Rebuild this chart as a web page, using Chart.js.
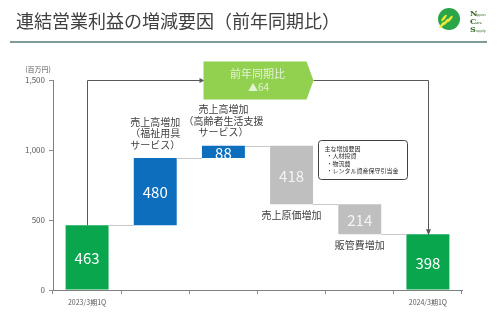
<!DOCTYPE html>
<html><head><meta charset="utf-8">
<script src="https://cdn.jsdelivr.net/npm/chart.js@4"></script>
<style>html,body{margin:0;padding:0;background:#fff;}canvas{display:block;}</style>
</head><body>
<canvas id="c" width="500" height="324"></canvas>
<script>
const titleText = '連結営業利益の増減要因（前年同期比）';
const unitLabel = '(百万円)';
const categories = ['2023/3期1Q','売上高増加（福祉用具サービス）','売上高増加（高齢者生活支援サービス）','売上原価増加','販管費増加','2024/3期1Q'];
const xTickLabels = ['2023/3期1Q','','','','','2024/3期1Q'];
const changes = [463, 480, 88, -418, -214, 398];
const barKinds = ['total','up','up','down','down','total'];
const yTicks = [0, 500, 1000, 1500];
const stepLabels = [[], ['売上高増加','（福祉用具','サービス）'], ['売上高増加','（高齢者生活支援','サービス）'], ['売上原価増加'], ['販管費増加'], []];
const diffLabel = ['前年同期比', '▲64'];
const noteLines = ['主な増加要因', '・人材投資', '・物流費', '・レンタル資産保守引当金'];

const FONT = '"Noto Sans CJK JP","Noto Sans",sans-serif';
const colorOf = {total:'#0aa64e', up:'#0d6ebe', down:'#bfbfbf'};

// floating ranges
let run = 0;
const ranges = changes.map((v,i)=>{
  if (barKinds[i]==='total') { run = v; return [0, v]; }
  const s = run; run = s + v; return [Math.min(s,run), Math.max(s,run)];
});
const levels = []; // ending level after each bar
{ let r=0; changes.forEach((v,i)=>{ r = barKinds[i]==='total'? v : r+v; levels.push(r); }); }

const deco = {
  id:'deco',
  afterDatasetsDraw(chart){
    const ctx = chart.ctx, xs = chart.scales.x, ys = chart.scales.y;
    const meta = chart.getDatasetMeta(0).data;
    ctx.save();
    // title
    ctx.fillStyle = '#404040';
    ctx.font = '18px ' + FONT;
    ctx.textBaseline = 'alphabetic'; ctx.textAlign='left';
    ctx.fillText(titleText, 16, 28);
    ctx.fillStyle = '#7d9c98';
    ctx.fillRect(10, 41, 477, 2);
    // logo
    ctx.fillStyle = '#2aa648';
    ctx.beginPath(); ctx.arc(449, 19, 11, 0, Math.PI*2); ctx.fill();
    ctx.fillStyle = '#eee83a';
    [[442,25,-0.9],[446,22,-0.9],[450,19,-0.9],[444,18,-0.9]].forEach(([x,y,a])=>{
      ctx.beginPath(); ctx.ellipse(x,y,4,1.3,a,0,Math.PI*2); ctx.fill();
    });
    ctx.fillStyle = '#3e6b2c';
    ctx.textBaseline='middle';
    [['N','ippon',14],['C','are',22],['S','upply',30]].forEach(([a,b,y])=>{
      ctx.font = 'bold 8px "DejaVu Serif",serif'; ctx.fillText(a, 470, y);
      ctx.font = '3.5px "DejaVu Sans",sans-serif'; ctx.fillText(b, 476, y+1);
    });
    // unit label
    ctx.fillStyle = '#595959';
    ctx.font = '7px ' + FONT;
    ctx.textAlign='center'; ctx.textBaseline='middle';
    ctx.fillText(unitLabel, 38, 69);

    // connectors
    ctx.strokeStyle = '#c8c8c8'; ctx.lineWidth = 1;
    for (let i=0;i<meta.length-1;i++){
      const a = meta[i], b = meta[i+1];
      const yy = Math.round(ys.getPixelForValue(levels[i])) + 0.5;
      ctx.beginPath(); ctx.moveTo(a.x + a.width/2, yy); ctx.lineTo(b.x - b.width/2, yy); ctx.stroke();
    }
    // value labels
    ctx.font = '15px ' + FONT;
    meta.forEach((el,i)=>{
      ctx.fillStyle = barKinds[i]==='down' ? '#f4f4f4' : '#ffffff';
      const cy = (el.y + el.base)/2 + 1;
      ctx.fillText(String(Math.abs(changes[i])), el.x, cy);
    });
    // step labels
    ctx.font = '10px ' + FONT; ctx.fillStyle = '#404040';
    meta.forEach((el,i)=>{
      const lines = stepLabels[i]; if (!lines.length) return;
      if (barKinds[i]==='up'){
        const top = Math.min(el.y, el.base);
        lines.forEach((t,k)=> ctx.fillText(t, el.x, top - 13 - (lines.length-1-k)*11.5));
      } else {
        const bot = Math.max(el.y, el.base);
        lines.forEach((t,k)=> ctx.fillText(t, el.x, bot + 11 + k*11.5));
      }
    });
    // bracket
    const yTop = Math.round(ys.getPixelForValue(ys.max)) + 0.5;
    const x0 = Math.round(meta[0].x) + 0.5, x5 = Math.round(meta[5].x) + 0.5;
    const pc = xs.getPixelForValue(2.5);
    const pL = pc - 54, pR = pc + 56, pT = yTop - 19, pB = yTop + 19;
    ctx.strokeStyle = '#595959'; ctx.fillStyle='#595959';
    ctx.beginPath();
    ctx.moveTo(x0, meta[0].y); ctx.lineTo(x0, yTop); ctx.lineTo(pL - 2, yTop); ctx.stroke();
    ctx.beginPath(); ctx.moveTo(pL+1, yTop); ctx.lineTo(pL-4, yTop-2.5); ctx.lineTo(pL-4, yTop+2.5); ctx.closePath(); ctx.fill();
    ctx.beginPath(); ctx.moveTo(pR, yTop); ctx.lineTo(x5, yTop); ctx.lineTo(x5, meta[5].y - 4); ctx.stroke();
    ctx.beginPath(); ctx.moveTo(x5, meta[5].y+1); ctx.lineTo(x5-2.5, meta[5].y-5); ctx.lineTo(x5+2.5, meta[5].y-5); ctx.closePath(); ctx.fill();
    // pentagon
    ctx.fillStyle = '#92d050';
    ctx.beginPath();
    ctx.moveTo(pL, pT); ctx.lineTo(pR-7, pT); ctx.lineTo(pR, yTop); ctx.lineTo(pR-7, pB); ctx.lineTo(pL, pB); ctx.closePath(); ctx.fill();
    ctx.fillStyle = '#e4f2d4';
    ctx.font = '11px ' + FONT;
    ctx.fillText(diffLabel[0], pc, yTop - 7);
    ctx.font = '10px ' + FONT;
    ctx.fillText(diffLabel[1], pc + 1, yTop + 7);
    // note box
    const bx = Math.round(xs.getPixelForValue(4)) - 41.5, by = Math.round(ys.getPixelForValue(1075)) + 0.5;
    const bw = 89, bh = 39;
    ctx.strokeStyle = '#404040'; ctx.lineWidth = 1;
    ctx.beginPath();
    if (ctx.roundRect) ctx.roundRect(bx, by, bw, bh, 3); else ctx.rect(bx,by,bw,bh);
    ctx.fillStyle='#fff'; ctx.fill(); ctx.stroke();
    ctx.fillStyle = '#262626'; ctx.font = '6px ' + FONT; ctx.textAlign='left';
    noteLines.forEach((t,k)=> ctx.fillText(t, bx + (k===0?6:8), by + 8 + k*7.5));
    ctx.restore();
  }
};

new Chart(document.getElementById('c'), {
  type:'bar',
  data:{
    labels: categories,
    datasets:[{
      data: ranges,
      backgroundColor: barKinds.map(k=>colorOf[k]),
      borderWidth:0,
      barPercentage:0.63,
      categoryPercentage:1
    }]
  },
  options:{
    responsive:false,
    animation:false,
    layout:{padding:{left:0,right:38,top:80,bottom:0}},
    plugins:{legend:{display:false},tooltip:{enabled:false}},
    scales:{
      x:{
        afterFit(s){ s.height = 34; },
        grid:{drawOnChartArea:false, tickLength:4, color:'#8c8c8c', offset:true},
        border:{color:'#7f7f7f'},
        ticks:{autoSkip:false, maxRotation:0, padding:4, color:'#595959', font:{size:7, family:FONT},
          callback:(v,i)=>xTickLabels[i]}
      },
      y:{
        min:0, max:1500,
        afterFit(s){ s.width = 53; },
        afterBuildTicks(s){ s.ticks = yTicks.map(v=>({value:v})); },
        grid:{drawOnChartArea:false, tickLength:4, color:'#8c8c8c'},
        border:{color:'#7f7f7f'},
        ticks:{padding:4, color:'#595959', font:{size:8, family:FONT},
          callback:v=>v.toLocaleString('en-US')}
      }
    }
  },
  plugins:[deco]
});
</script>
</body></html>
